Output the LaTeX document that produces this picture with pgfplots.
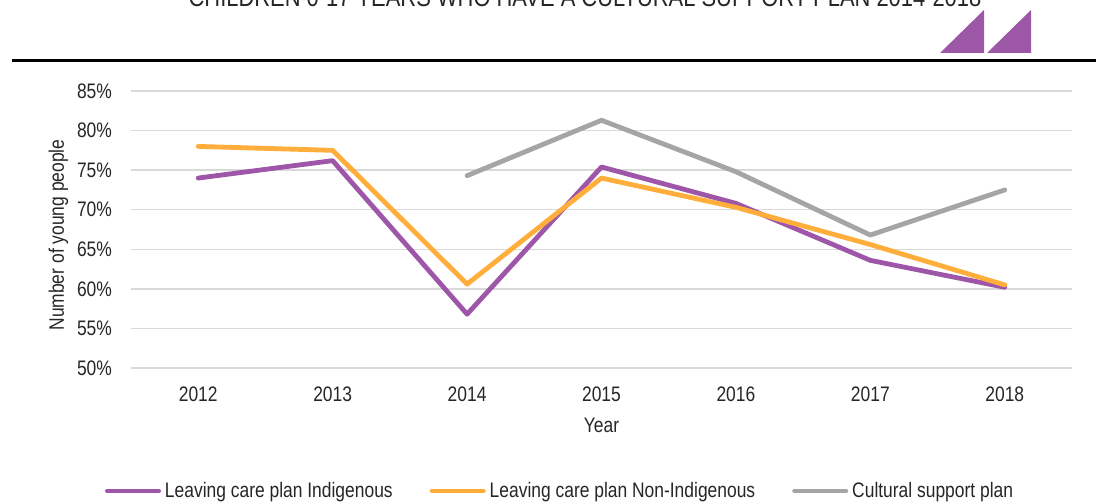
\documentclass[border=0pt]{standalone}
\usepackage{fontspec}
\setmainfont{Liberation Sans}[FakeStretch=0.83]
\usepackage{pgfplots}
\pgfplotsset{compat=1.18}
\definecolor{cpurple}{HTML}{9E57A8}
\definecolor{corange}{HTML}{FFAD3B}
\definecolor{cgray}{HTML}{A5A5A5}
\definecolor{cgrid}{HTML}{D9D9D9}
\definecolor{ctext}{HTML}{262626}
\definecolor{ctri}{HTML}{9C57A6}
\begin{document}
\begin{tikzpicture}
\useasboundingbox (0,0) rectangle (548pt,251.5pt);
% title (cut off at the top, as in the reference)
\node[anchor=base, font=\fontsize{13.2}{15}\selectfont, text=ctext, inner sep=0pt] at (292.5pt,248pt) {CHILDREN 0-17 YEARS WHO HAVE A CULTURAL SUPPORT PLAN 2014-2018};
% decorative triangles and rule
\fill[ctri] (470pt,225pt) -- (492pt,246.5pt) -- (492pt,225pt) -- cycle;
\fill[ctri] (493.5pt,225pt) -- (515.5pt,246.5pt) -- (515.5pt,225pt) -- cycle;
\fill[black] (6pt,220.5pt) rectangle (548pt,222pt);
\begin{axis}[
  at={(65.5pt,67.5pt)}, anchor=south west,
  scale only axis, width=470.5pt, height=138.5pt,
  xmin=-0.5, xmax=6.5, ymin=50, ymax=85,
  xtick={0,1,2,3,4,5,6},
  xticklabels={2012,2013,2014,2015,2016,2017,2018},
  ytick={50,55,60,65,70,75,80,85},
  yticklabel={\pgfmathprintnumber{\tick}\%},
  /pgf/number format/assume math mode=true,
  ymajorgrids, grid style={cgrid, line width=0.75pt},
  axis line style={draw=none}, major tick length=0pt,
  tick label style={font=\fontsize{10.5}{12}\selectfont, text=ctext},
  xticklabel style={yshift=-6pt},
  yticklabel style={xshift=-6pt},
  xlabel={Year}, ylabel={Number of young people},
  label style={font=\fontsize{10.5}{12}\selectfont, text=ctext},
  xlabel style={at={(axis description cs:0.5,0)}, anchor=center, yshift=-28.5pt},
  ylabel style={at={(axis description cs:-0.077,0.48)}, anchor=center},
  legend style={draw=none, fill=none, at={(axis description cs:0.457,-0.444)}, anchor=center,
    legend columns=3, font=\fontsize{10.5}{12}\selectfont, text=ctext,
    /tikz/every even column/.append style={column sep=16.5pt}},
  legend image code/.code={\draw[#1, line width=2pt] (0pt,0pt) -- (26pt,0pt);},
  every axis plot/.append style={line width=2.4pt, line join=round, line cap=round, mark=none},
]
\addplot[cpurple] coordinates {(0,74.0) (1,76.2) (2,56.8) (3,75.4) (4,70.8) (5,63.6) (6,60.2)};
\addlegendentry{Leaving care plan Indigenous}
\addplot[corange] coordinates {(0,78.0) (1,77.5) (2,60.6) (3,74.0) (4,70.3) (5,65.6) (6,60.5)};
\addlegendentry{Leaving care plan Non-Indigenous}
\addplot[cgray] coordinates {(2,74.3) (3,81.3) (4,74.8) (5,66.8) (6,72.5)};
\addlegendentry{Cultural support plan}
\end{axis}
\end{tikzpicture}
\end{document}
